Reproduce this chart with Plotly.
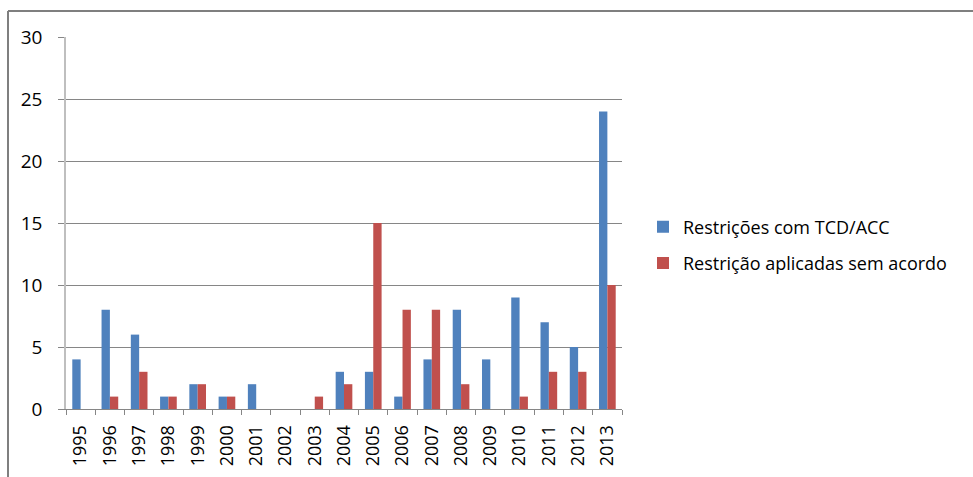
import plotly.graph_objects as go

years = ["1995", "1996", "1997", "1998", "1999", "2000", "2001", "2002", "2003", "2004",
         "2005", "2006", "2007", "2008", "2009", "2010", "2011", "2012", "2013"]
com_tcd = [4, 8, 6, 1, 2, 1, 2, 0, 0, 3, 3, 1, 4, 8, 4, 9, 7, 5, 24]
sem_acordo = [0, 1, 3, 1, 2, 1, 0, 0, 1, 2, 15, 8, 8, 2, 0, 1, 3, 3, 10]

blue = "#4F81BD"
red = "#C0504D"
grid = "#868686"
font_family = "'Open Sans', Lato, sans-serif"

fig = go.Figure()
fig.add_trace(go.Bar(x=years, y=com_tcd, name="Restrições com TCD/ACC",
                     legendgroup="a",
                     marker=dict(color=blue, line=dict(width=0))))
fig.add_trace(go.Bar(x=years, y=sem_acordo, name="Restrição aplicadas sem acordo",
                     legendgroup="b",
                     marker=dict(color=red, line=dict(width=0))))

W, H = 973, 477
L, R, T, B = 66, 622, 37, 409
pw, ph = R - L, B - T

def px_x(x):
    return (x - L) / pw

def px_y(y):
    return (B - y) / ph

fig.update_layout(
    width=W, height=H,
    margin=dict(l=L, r=W - R, t=T, b=H - B, pad=0),
    paper_bgcolor="white", plot_bgcolor="white",
    barmode="group", bargap=0.43, bargroupgap=0,
    font=dict(family=font_family, color="#000000"),
    showlegend=True,
    legend=dict(x=px_x(643), y=px_y(245), xanchor="left", yanchor="middle",
                font=dict(size=18, family=font_family), tracegroupgap=10,
                itemwidth=30, bgcolor="rgba(0,0,0,0)"),
    xaxis=dict(type="category", tickangle=-90, tickfont=dict(size=18),
               ticklabelstandoff=8,
               showline=True, linecolor=grid, linewidth=1,
               ticks="outside", tickson="boundaries", ticklen=5, tickcolor=grid,
               showgrid=False, zeroline=False),
    yaxis=dict(range=[0, 30], dtick=5, tickfont=dict(size=19),
               ticklabelstandoff=12,
               showline=True, linecolor="#BFBFBF", linewidth=1.5,
               ticks="outside", ticklen=6, tickcolor=grid,
               showgrid=True, gridcolor=grid, gridwidth=1, zeroline=False),
    shapes=[
        dict(type="line", xref="paper", yref="paper",
             x0=px_x(8), x1=px_x(975), y0=px_y(11), y1=px_y(11),
             line=dict(color="#7F7F7F", width=2)),
        dict(type="line", xref="paper", yref="paper",
             x0=px_x(8), x1=px_x(8), y0=px_y(11), y1=px_y(480),
             line=dict(color="#7F7F7F", width=2)),
    ],
)

fig.write_html("out.html")
